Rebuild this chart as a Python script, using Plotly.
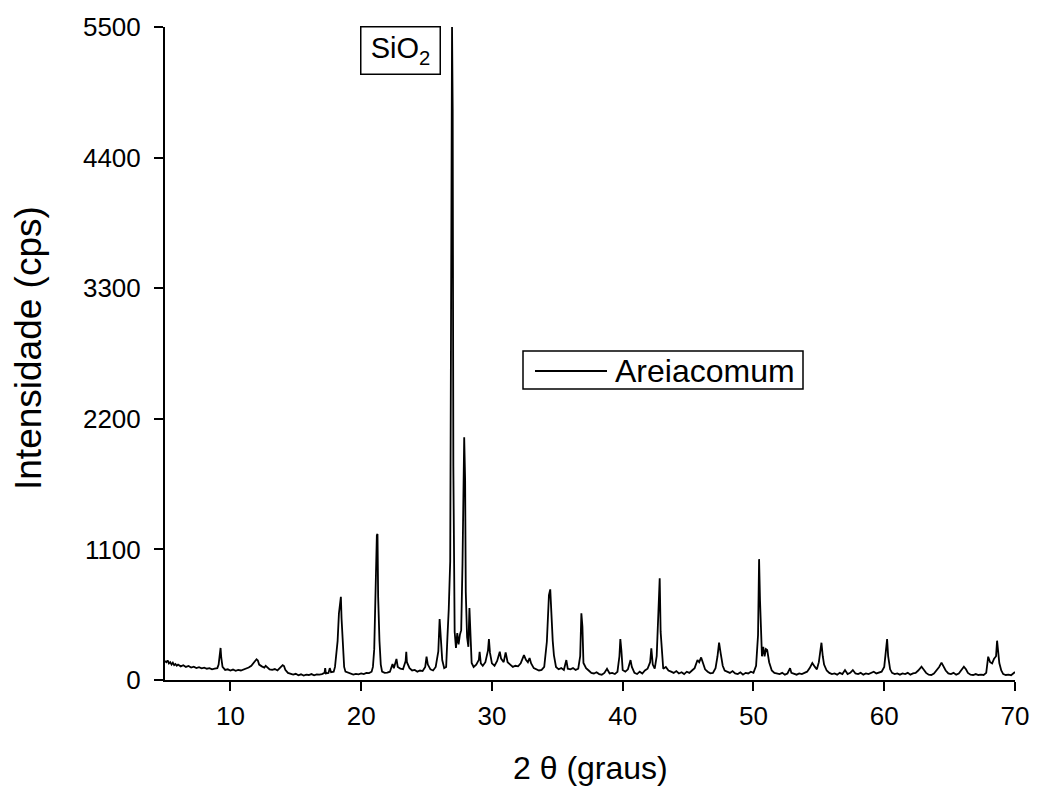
import plotly.graph_objects as go

two_theta = [
    5.0, 5.1, 5.2, 5.3, 5.4, 5.5, 5.6, 5.7, 5.8, 5.9,
    6.0, 6.2, 6.4, 6.6, 6.8, 7.0, 7.2, 7.4, 7.6, 7.8,
    8.0, 8.2, 8.4, 8.6, 8.8, 9.0, 9.1, 9.2, 9.25, 9.3,
    9.4, 9.6, 9.8, 10.0, 10.2, 10.4, 10.6, 10.8, 11.0, 11.2,
    11.4, 11.6, 11.8, 12.0, 12.1, 12.2, 12.4, 12.6, 12.7, 12.8,
    13.0, 13.2, 13.4, 13.6, 13.8, 14.0, 14.1, 14.2, 14.4, 14.6,
    14.8, 15.0, 15.2, 15.4, 15.6, 15.8, 16.0, 16.2, 16.4, 16.6,
    16.8, 17.0, 17.2, 17.25, 17.3, 17.5, 17.6, 17.7, 17.9, 18.0,
    18.1, 18.2, 18.3, 18.4, 18.45, 18.5, 18.6, 18.7, 18.8, 19.0,
    19.2, 19.4, 19.6, 19.8, 20.0, 20.2, 20.4, 20.6, 20.8, 20.9,
    21.0, 21.1, 21.2, 21.25, 21.3, 21.4, 21.5, 21.6, 21.8, 22.0,
    22.2, 22.4, 22.5, 22.7, 22.8, 23.0, 23.2, 23.4, 23.45, 23.5,
    23.7, 23.9, 24.1, 24.3, 24.5, 24.7, 24.9, 25.0, 25.1, 25.3,
    25.5, 25.7, 25.9, 26.0, 26.1, 26.2, 26.35, 26.5, 26.6, 26.7,
    26.81, 26.88, 26.95, 27.0, 27.05, 27.15, 27.25, 27.35, 27.45, 27.55,
    27.65, 27.75, 27.8, 27.88, 27.95, 28.0, 28.1, 28.2, 28.28, 28.35,
    28.45, 28.6, 28.8, 29.0, 29.06, 29.15, 29.3, 29.5, 29.7, 29.77,
    29.85, 30.0, 30.2, 30.4, 30.6, 30.7, 30.9, 31.05, 31.2, 31.4,
    31.6, 31.8, 32.0, 32.2, 32.45, 32.6, 32.75, 32.88, 33.0, 33.2,
    33.4, 33.6, 33.8, 34.0, 34.2, 34.36, 34.46, 34.54, 34.65, 34.74,
    34.9, 35.1, 35.3, 35.5, 35.69, 35.8, 36.0, 36.2, 36.4, 36.6,
    36.75, 36.84, 36.92, 37.0, 37.2, 37.4, 37.6, 37.8, 38.0, 38.2,
    38.4, 38.6, 38.8, 39.0, 39.2, 39.4, 39.6, 39.75, 39.82, 39.9,
    40.0, 40.2, 40.4, 40.6, 40.7, 40.9, 41.1, 41.3, 41.5, 41.7,
    41.9, 42.1, 42.19, 42.3, 42.45, 42.6, 42.7, 42.83, 42.9, 43.0,
    43.1, 43.3, 43.5, 43.7, 43.9, 44.1, 44.3, 44.5, 44.7, 44.9,
    45.1, 45.3, 45.5, 45.72, 45.85, 46.0, 46.1, 46.3, 46.5, 46.7,
    46.9, 47.1, 47.25, 47.37, 47.5, 47.65, 47.8, 48.0, 48.2, 48.4,
    48.6, 48.8, 49.0, 49.2, 49.4, 49.6, 49.8, 50.0, 50.2, 50.35,
    50.43, 50.5, 50.56, 50.65, 50.75, 50.85, 50.95, 51.05, 51.2, 51.4,
    51.6, 51.8, 52.0, 52.2, 52.4, 52.6, 52.8, 52.9, 53.1, 53.3,
    53.5, 53.7, 53.9, 54.1, 54.3, 54.5, 54.7, 54.85, 55.0, 55.1,
    55.2, 55.3, 55.4, 55.6, 55.8, 56.0, 56.2, 56.4, 56.6, 56.8,
    57.0, 57.2, 57.4, 57.6, 57.8, 58.0, 58.2, 58.4, 58.6, 58.8,
    59.0, 59.2, 59.4, 59.6, 59.8, 60.0, 60.15, 60.22, 60.3, 60.45,
    60.6, 60.8, 61.0, 61.2, 61.4, 61.6, 61.8, 62.0, 62.2, 62.4,
    62.6, 62.85, 63.0, 63.2, 63.4, 63.6, 63.8, 64.0, 64.2, 64.38,
    64.5, 64.7, 64.9, 65.1, 65.3, 65.5, 65.7, 65.9, 66.09, 66.25,
    66.4, 66.6, 66.8, 67.0, 67.2, 67.4, 67.6, 67.8, 67.95, 68.1,
    68.25, 68.4, 68.55, 68.63, 68.7, 68.8, 68.95, 69.1, 69.3, 69.5,
    69.7, 69.85, 70.0,
]

intensity = [
    160, 150, 165, 140, 150, 130, 145, 125, 135, 120,
    130, 115, 125, 110, 118, 105, 112, 100, 108, 98,
    104, 95, 100, 90, 95, 100, 130, 200, 270, 190,
    110, 85, 90, 80, 88, 78, 85, 80, 88, 95,
    105, 120, 150, 175, 165, 130, 115, 105, 120, 110,
    90, 85, 92, 80, 100, 125, 118, 85, 60, 50,
    45, 52, 40, 48, 38, 45, 42, 50, 40, 48,
    45, 50, 60, 100, 55, 60, 100, 65, 70, 110,
    200, 330, 560, 680, 700, 520, 260, 110, 70, 60,
    50, 45, 52, 48, 55, 50, 60, 58, 70, 110,
    260, 774, 1220, 1230, 700, 330, 130, 70, 60, 62,
    70, 135, 100, 177, 110, 95, 90, 160, 238, 150,
    100, 80, 85, 70, 80, 75, 110, 196, 130, 90,
    80, 110, 240, 513, 337, 168, 100, 110, 365, 600,
    1000, 3560, 5500, 4805, 1800, 406, 270, 395, 300, 380,
    420, 980, 1683, 2045, 1683, 743, 360, 280, 606, 430,
    143, 110, 130, 170, 238, 140, 120, 150, 250, 345,
    230, 140, 120, 160, 238, 180, 150, 233, 150, 130,
    110, 120, 115, 140, 210, 170, 150, 185, 140, 100,
    90, 80, 85, 110, 322, 715, 763, 533, 330, 210,
    110, 90, 100, 85, 168, 95, 90, 100, 85, 95,
    200, 561, 450, 143, 100, 80, 60, 55, 65, 50,
    45, 60, 95, 55, 60, 50, 70, 200, 345, 250,
    84, 70, 90, 168, 110, 60, 50, 70, 55, 80,
    95, 150, 266, 130, 95, 200, 505, 856, 407, 200,
    95, 110, 80, 70, 60, 75, 55, 65, 50, 70,
    60, 80, 100, 168, 150, 190, 160, 90, 70, 56,
    60, 100, 200, 314, 220, 120, 80, 70, 60, 75,
    55, 50, 65, 45, 60, 55, 70, 60, 120, 379,
    1018, 673, 379, 200, 278, 200, 260, 252, 150, 80,
    60, 55, 50, 60, 45, 55, 100, 60, 50, 45,
    55, 50, 60, 70, 100, 143, 110, 90, 150, 238,
    314, 200, 130, 80, 60, 50, 55, 45, 60, 50,
    84, 50, 60, 84, 55, 50, 60, 45, 55, 50,
    60, 70, 55, 60, 70, 110, 250, 345, 200, 90,
    60, 50, 55, 45, 55, 50, 60, 45, 55, 60,
    80, 112, 90, 60, 45, 42, 55, 80, 110, 146,
    120, 80, 55, 50, 60, 45, 55, 80, 112, 90,
    60, 45, 42, 50, 42, 45, 42, 60, 196, 150,
    140, 180, 200, 331, 250, 143, 80, 50, 42, 45,
    40, 50, 67,
]

x_ticks = [10, 20, 30, 40, 50, 60, 70]
y_ticks = [0, 1100, 2200, 3300, 4400, 5500]

series_name = "Areiacomum"
phase_label = "SiO<sub>2</sub>"
x_title = "2 θ (graus)"
y_title = "Intensidade (cps)"

FONT = "Liberation Sans, Arial, sans-serif"

FIG_W, FIG_H = 1038, 787
# plot-area geometry in screen pixels
L, R, T, B = 165, 1015, 27, 680
PW, PH = R - L, B - T


def px(xs):
    return (xs - L) / PW


def py(ys):
    return (B - ys) / PH


fig = go.Figure()
fig.add_trace(go.Scatter(
    x=two_theta, y=intensity, mode="lines", name=series_name,
    line=dict(color="black", width=1.8),
    showlegend=False,
))

fig.update_layout(
    width=FIG_W, height=FIG_H,
    margin=dict(l=L, r=FIG_W - R, t=T, b=FIG_H - B, autoexpand=False),
    paper_bgcolor="white", plot_bgcolor="white",
    font=dict(family=FONT, color="black", size=26),
    showlegend=False,
    xaxis=dict(
        range=[5, 70], tickvals=x_ticks,
        showline=True, linecolor="black", linewidth=2,
        ticks="outside", ticklen=9, tickwidth=2, tickcolor="black",
        showgrid=False, zeroline=False, mirror=False, automargin=False,
        tickfont=dict(size=26, family=FONT, color="black"),
        ticklabelstandoff=3,
    ),
    yaxis=dict(
        range=[0, 5500], tickvals=y_ticks,
        showline=True, linecolor="black", linewidth=2,
        ticks="outside", ticklen=9, tickwidth=2, tickcolor="black",
        showgrid=False, zeroline=False, mirror=False, automargin=False,
        tickfont=dict(size=26, family=FONT, color="black"),
        ticklabelstandoff=8,
    ),
)

# axis titles
fig.add_annotation(
    x=px(590), y=py(768), xref="paper", yref="paper",
    text=x_title, showarrow=False,
    font=dict(size=32, family=FONT, color="black"),
    xanchor="center", yanchor="middle",
)
fig.add_annotation(
    x=px(28), y=py(348), xref="paper", yref="paper",
    text=y_title, showarrow=False, textangle=-90,
    font=dict(size=37, family=FONT, color="black"),
    xanchor="center", yanchor="middle",
)

# SiO2 label box
fig.add_annotation(
    x=px(400), y=py(51), xref="paper", yref="paper",
    text=phase_label, showarrow=False,
    font=dict(size=29, family=FONT, color="black"),
    bordercolor="black", borderwidth=1.5, borderpad=3,
    width=72, height=40,
    bgcolor="white", xanchor="center", yanchor="middle",
)

# legend box drawn by hand
fig.add_shape(type="rect", xref="paper", yref="paper",
              x0=px(523), x1=px(803), y0=py(389), y1=py(351),
              line=dict(color="black", width=1.5), fillcolor="white", layer="above")
fig.add_shape(type="line", xref="paper", yref="paper",
              x0=px(535), x1=px(607), y0=py(371), y1=py(371),
              line=dict(color="black", width=1.8), layer="above")
fig.add_annotation(
    x=px(613), y=py(371), xref="paper", yref="paper",
    text=series_name, showarrow=False,
    font=dict(size=32, family=FONT, color="black"),
    xanchor="left", yanchor="middle",
)

# remove the browser's default 8 px page margin so the figure sits at (0, 0)
fig.write_html(
    "out.html",
    config={"displayModeBar": False},
    post_script="document.body.style.margin='0px';document.body.style.overflow='hidden';",
)
